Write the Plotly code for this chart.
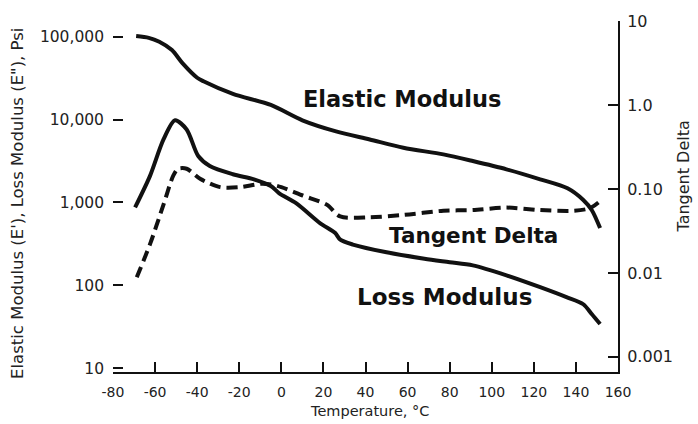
import math
import plotly.graph_objects as go

# ---- data ----
elastic_t = [-69, -63, -58, -52, -47, -40, -37, -23, -5, 10, 26, 42, 58, 77, 91, 107, 123, 136, 143.5, 147.5, 151.5]
elastic_v = [102000, 97000, 87000, 69000, 48000, 32000, 29000, 20400, 15000, 9800, 7200, 5750, 4570, 3800, 3160, 2510, 1900, 1480, 1070, 810, 490]

loss_t = [-69.5, -62.4, -56, -50.5, -45, -39.5, -34, -23, -13, -5, -1, 7, 18.5, 25.5, 28, 34, 50, 68, 80, 91, 107, 123, 135.5, 143.5, 147.5, 151.5]
loss_v = [870, 2090, 5750, 9800, 7600, 3630, 2750, 2190, 1900, 1580, 1290, 980, 560, 430, 355, 310, 250, 209, 190, 174, 132, 95, 72, 59, 45, 34]

tan_t = [-68.7, -62.4, -56, -51.3, -49, -45, -38.6, -29, -19.6, -10, -5, 0, 10.4, 21.6, 28, 42, 58, 77, 91, 107, 123, 139, 146.7, 150.7]
tan_v = [0.0089, 0.022, 0.065, 0.145, 0.174, 0.174, 0.132, 0.105, 0.105, 0.115, 0.113, 0.105, 0.083, 0.065, 0.047, 0.046, 0.049, 0.055, 0.056, 0.060, 0.056, 0.055, 0.059, 0.069]

x_ticks = [-80, -60, -40, -20, 0, 20, 40, 60, 80, 100, 120, 140, 160]
x_ticktext = ["-80", "-60", "-40", "-20", "0", "20", "40", "60", "80", "100", "120", "140", "160"]
left_ticks = [10, 100, 1000, 10000, 100000]
left_ticktext = ["10", "100", "1,000", "10,000", "100,000"]
right_ticks = [0.001, 0.01, 0.1, 1, 10]
right_ticktext = ["0.001", "0.01", "0.10", "1.0", "10"]

FONT = "DejaVu Sans"
INK = "#111111"
LABEL = "#222222"

left_range = [0.953, 5.19]
right_range = [-3.18, 1.0]

fig = go.Figure()
fig.add_trace(go.Scatter(x=elastic_t, y=elastic_v, mode="lines",
                         line=dict(color=INK, width=4, shape="spline", smoothing=0.8),
                         showlegend=False, yaxis="y"))
fig.add_trace(go.Scatter(x=loss_t, y=loss_v, mode="lines",
                         line=dict(color=INK, width=4, shape="spline", smoothing=0.8),
                         showlegend=False, yaxis="y"))
fig.add_trace(go.Scatter(x=tan_t, y=tan_v, mode="lines",
                         line=dict(color=INK, width=4, dash="11px,6px", shape="spline", smoothing=0.8),
                         showlegend=False, yaxis="y2"))

fig.update_layout(
    width=698, height=424,
    margin=dict(l=113, r=80, t=14, b=52),
    paper_bgcolor="white", plot_bgcolor="white",
    font=dict(family=FONT, color=INK),
    xaxis=dict(range=[-80, 160], tickvals=x_ticks, ticktext=x_ticktext,
               ticks="inside", ticklen=10, tickwidth=2, tickcolor=INK,
               showline=True, linewidth=2, linecolor=INK,
               showgrid=False, zeroline=False,
               tickfont=dict(size=14, family=FONT, color=LABEL),
               ticklabelstandoff=6),
    yaxis=dict(type="log", range=left_range, tickvals=left_ticks, ticktext=left_ticktext,
               ticks="inside", ticklen=10, tickwidth=2, tickcolor=INK,
               showline=False, showgrid=False, zeroline=False,
               tickfont=dict(size=15.5, family=FONT, color=LABEL),
               ticklabelstandoff=8),
    yaxis2=dict(type="log", range=right_range, tickvals=right_ticks, ticktext=right_ticktext,
                overlaying="y", side="right",
                ticks="inside", ticklen=10, tickwidth=2, tickcolor=INK,
                showline=True, linewidth=2, linecolor=INK,
                showgrid=False, zeroline=False,
                tickfont=dict(size=16, family=FONT, color=LABEL),
                ticklabelstandoff=4),
)

# left axis line: from the bottom of the axis up to the 100,000 tick
fig.add_shape(type="line", xref="paper", yref="y",
              x0=0, x1=0, y0=left_range[0], y1=math.log10(left_ticks[-1]),
              line=dict(color=INK, width=2))

annos = [
    dict(text="Elastic Modulus (E'), Loss Modulus (E\"), Psi", x=-0.188, y=0.479,
         textangle=-90, font=dict(size=16.5, color=LABEL)),
    dict(text="Tangent Delta", x=1.1287, y=0.557, textangle=-90, font=dict(size=16, color=LABEL)),
    dict(text="Temperature, °C", x=0.507, y=-0.1117, font=dict(size=14.5, color=LABEL)),
    dict(text="<b>Elastic Modulus</b>", x=0.572, y=0.779, font=dict(size=22.5, color=INK)),
    dict(text="<b>Tangent Delta</b>", x=0.713, y=0.388, font=dict(size=21.5, color=INK)),
    dict(text="<b>Loss Modulus</b>", x=0.657, y=0.215, font=dict(size=23, color=INK)),
]
for a in annos:
    fig.add_annotation(xref="paper", yref="paper", showarrow=False,
                       xanchor="center", yanchor="middle", **a)

fig.write_html("out.html")
